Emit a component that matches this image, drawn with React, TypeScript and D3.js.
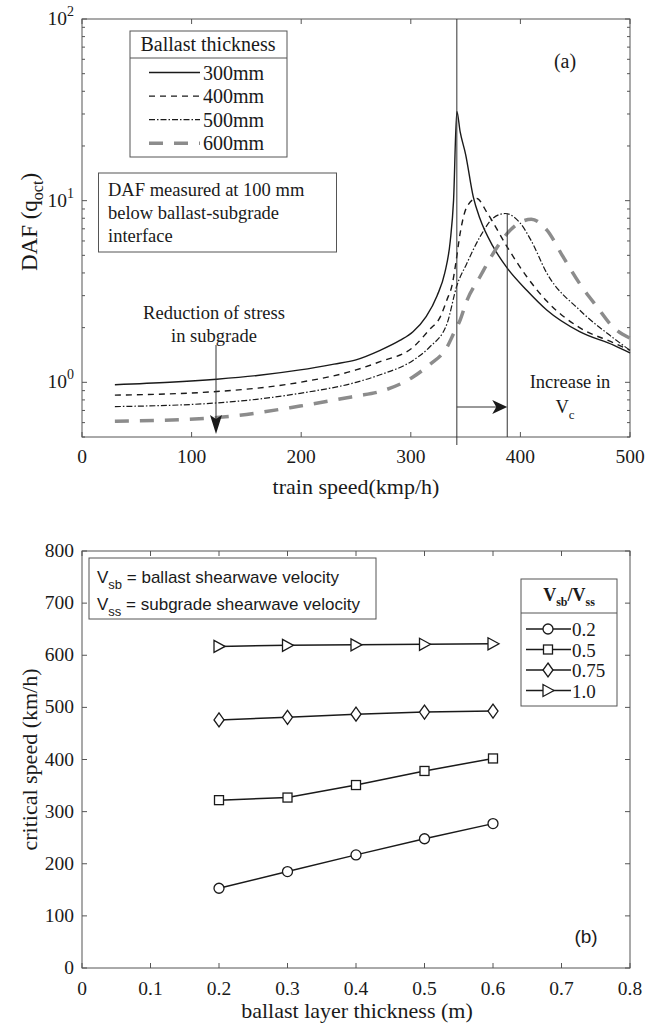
import React from "react";
import * as d3 from "d3";

// ---- panel (a): DAF vs train speed ----
const thicknessLabels = ["300mm", "400mm", "500mm", "600mm"];

const speed300 = [30, 80, 123, 160, 199, 230, 250, 272, 290, 302, 314, 324, 331, 336, 339, 342, 345, 350, 357, 363, 375, 388, 406, 424, 454, 485, 500];
const daf300 = [0.97, 1.0, 1.04, 1.09, 1.17, 1.26, 1.33, 1.5, 1.7, 1.9, 2.3, 3.0, 4.0, 6.0, 10, 31, 24, 18, 10.5, 8, 5.6, 4.25, 3.2, 2.5, 1.9, 1.6, 1.45];

const speed400 = [30, 123, 199, 250, 272, 302, 317, 327, 333, 338, 341, 345, 351, 360, 370, 388, 406, 424, 454, 485, 500];
const daf400 = [0.85, 0.89, 1.0, 1.17, 1.3, 1.56, 1.95, 2.3, 2.85, 3.5, 4.5, 6.6, 9.2, 10.3, 8.5, 5.55, 3.8, 2.8, 2.0, 1.65, 1.5];

const speed500 = [30, 123, 199, 250, 272, 302, 317, 333, 342, 351, 363, 375, 386, 400, 410, 424, 454, 485, 500];
const daf500 = [0.735, 0.77, 0.87, 1.0, 1.1, 1.32, 1.56, 2.1, 3.4, 4.5, 6.3, 8.0, 8.5, 7.5, 6.0, 4.0, 2.5, 1.75, 1.5];

const speed600 = [30, 123, 199, 250, 272, 302, 317, 333, 339, 345, 351, 363, 375, 388, 400, 410, 424, 439, 454, 470, 485, 500];
const daf600 = [0.61, 0.64, 0.74, 0.84, 0.89, 1.07, 1.25, 1.56, 1.85, 2.2, 2.8, 3.8, 5.1, 6.6, 7.6, 7.9, 6.9, 4.9, 3.5, 2.6, 2.0, 1.75];

const speedTicks = [0, 100, 200, 300, 400, 500];
const criticalSpeeds = [342, 388];

// ---- panel (b): critical speed vs ballast thickness ----
const ratioLabels = ["0.2", "0.5", "0.75", "1.0"];
const thickness = [0.2, 0.3, 0.4, 0.5, 0.6];
const crit02 = [153, 185, 217, 248, 277];
const crit05 = [322, 327, 351, 378, 402];
const crit075 = [476, 481, 487, 491, 493];
const crit10 = [617, 619, 620, 621, 622];
const thickTicks = [0, 0.1, 0.2, 0.3, 0.4, 0.5, 0.6, 0.7, 0.8];
const critTicks = [0, 100, 200, 300, 400, 500, 600, 700, 800];

const serif = "'Liberation Serif', 'Times New Roman', serif";
const sans = "'Liberation Sans', Arial, sans-serif";
const axisColor = "#555";
const ink = "#1a1a1a";

const styleA = [
  { stroke: ink, width: 1.4, dash: "none" },
  { stroke: ink, width: 1.4, dash: "6,5" },
  { stroke: ink, width: 1.2, dash: "6,2,1.5,2" },
  { stroke: "#8c8c8c", width: 3.5, dash: "14,11" },
];

function Marker({ kind, x, y }: { kind: number; x: number; y: number }) {
  const p = { fill: "white", stroke: ink, strokeWidth: 1.3 };
  if (kind === 0) return <circle cx={x} cy={y} r={5} {...p} />;
  if (kind === 1) return <rect x={x - 4.5} y={y - 4.5} width={9} height={9} {...p} />;
  if (kind === 2) return <path d={`M${x},${y - 7}L${x + 5},${y}L${x},${y + 7}L${x - 5},${y}Z`} {...p} />;
  return <path d={`M${x + 6},${y}L${x - 5},${y - 6}L${x - 5},${y + 6}Z`} {...p} />;
}

export default function App() {
  // panel a
  const a = { left: 82, right: 630, top: 19, bottom: 437 };
  const xA = d3.scaleLinear().domain([0, 500]).range([a.left, a.right]);
  const yA = d3.scaleLog().domain([0.5, 100]).range([a.bottom, a.top]);
  const lineA = d3
    .line<[number, number]>()
    .x((d) => xA(d[0]))
    .y((d) => yA(d[1]))
    .curve(d3.curveMonotoneX);
  const seriesA = [
    d3.zip(speed300, daf300),
    d3.zip(speed400, daf400),
    d3.zip(speed500, daf500),
    d3.zip(speed600, daf600),
  ] as [number, number][][];
  const logMinor: number[] = [];
  [0.1, 1, 10].forEach((base) => {
    for (let k = 2; k <= 9; k++) {
      const v = base * k;
      if (v >= 0.5 && v < 100) logMinor.push(v);
    }
  });
  const logMajor = [1, 10, 100];

  // panel b
  const b = { left: 82, right: 630, top: 551, bottom: 968 };
  const xB = d3.scaleLinear().domain([0, 0.8]).range([b.left, b.right]);
  const yB = d3.scaleLinear().domain([0, 800]).range([b.bottom, b.top]);
  const lineB = d3
    .line<[number, number]>()
    .x((d) => xB(d[0]))
    .y((d) => yB(d[1]));
  const seriesB = [crit02, crit05, crit075, crit10].map((vals) => d3.zip(thickness, vals)) as [number, number][][];

  const tick = 5;
  const xc1 = xA(criticalSpeeds[0]);
  const xc2 = xA(criticalSpeeds[1]);

  return (
    <svg width={646} height={1024} style={{ position: "absolute", left: 0, top: 0, background: "white" }}>
      {/* ===== panel (a) ===== */}
      <g>
        {speedTicks.map((t) => (
          <g key={"xa" + t}>
            <line x1={xA(t)} x2={xA(t)} y1={a.bottom} y2={a.bottom - tick} stroke={axisColor} />
            <line x1={xA(t)} x2={xA(t)} y1={a.top} y2={a.top + tick} stroke={axisColor} />
            <text x={xA(t)} y={a.bottom + 26} textAnchor="middle" fontFamily={serif} fontSize={19.5} fill={ink}>
              {t}
            </text>
          </g>
        ))}
        {logMinor.map((v) => (
          <g key={"ym" + v}>
            <line x1={a.left} x2={a.left + 3} y1={yA(v)} y2={yA(v)} stroke={axisColor} />
            <line x1={a.right} x2={a.right - 3} y1={yA(v)} y2={yA(v)} stroke={axisColor} />
          </g>
        ))}
        {logMajor.map((v, i) => (
          <g key={"yM" + v}>
            <line x1={a.left} x2={a.left + tick} y1={yA(v)} y2={yA(v)} stroke={axisColor} />
            <line x1={a.right} x2={a.right - tick} y1={yA(v)} y2={yA(v)} stroke={axisColor} />
            <text x={a.left - 8} y={yA(v) + 6} textAnchor="end" fontFamily={serif} fontSize={19.5} fill={ink}>
              10
              <tspan dy={-9} fontSize={14}>
                {i}
              </tspan>
            </text>
          </g>
        ))}
        <rect x={a.left} y={a.top} width={a.right - a.left} height={a.bottom - a.top} fill="none" stroke={axisColor} />

        {seriesA.map((s, i) => (
          <path
            key={"la" + i}
            d={lineA(s) || ""}
            fill="none"
            stroke={styleA[i].stroke}
            strokeWidth={styleA[i].width}
            strokeDasharray={styleA[i].dash}
          />
        ))}

        {/* critical speed markers */}
        <line x1={xc1} x2={xc1} y1={a.top} y2={a.bottom + 8} stroke="#333" strokeWidth={1} />
        <line x1={xc2} x2={xc2} y1={yA(8.5)} y2={a.bottom} stroke="#333" strokeWidth={1} />
        <line x1={xc1} x2={xc2 - 4} y1={407} y2={407} stroke="#333" strokeWidth={1} />
        <path d={`M${xc2},407L${xc2 - 15},400L${xc2 - 11},407L${xc2 - 15},414Z`} fill={ink} />
        <text x={570} y={388} textAnchor="middle" fontFamily={serif} fontSize={18.5} fill={ink}>
          Increase in
        </text>
        <text x={565} y={413} textAnchor="middle" fontFamily={serif} fontSize={18.5} fill={ink}>
          V<tspan dy={6} fontSize={13}>c</tspan>
        </text>

        {/* reduction arrow */}
        <text x={214} y={319} textAnchor="middle" fontFamily={serif} fontSize={18.5} fill={ink}>
          Reduction of stress
        </text>
        <text x={214} y={342} textAnchor="middle" fontFamily={serif} fontSize={18.5} fill={ink}>
          in subgrade
        </text>
        <line x1={216} x2={216} y1={345} y2={425} stroke="#333" strokeWidth={1} />
        <path d="M216,434L210,415L216,419L222,415Z" fill={ink} />

        {/* (a) label */}
        <text x={565} y={68} textAnchor="middle" fontFamily={serif} fontSize={20} fill={ink}>
          (a)
        </text>

        {/* legend */}
        <rect x={130} y={31} width={157} height={126} fill="white" stroke={axisColor} />
        <line x1={130} x2={287} y1={58} y2={58} stroke={axisColor} />
        <text x={208} y={51} textAnchor="middle" fontFamily={serif} fontSize={20} fill={ink}>
          Ballast thickness
        </text>
        {thicknessLabels.map((lab, i) => {
          const yy = 72.5 + i * 23.6;
          return (
            <g key={"lg" + i}>
              <line
                x1={149}
                x2={200}
                y1={yy}
                y2={yy}
                stroke={styleA[i].stroke}
                strokeWidth={styleA[i].width}
                strokeDasharray={styleA[i].dash}
              />
              <text x={203} y={yy + 7} fontFamily={serif} fontSize={20} fill={ink}>
                {lab}
              </text>
            </g>
          );
        })}

        {/* note box */}
        <rect x={98.5} y={173} width={238} height={79} fill="white" stroke={axisColor} />
        <text fontFamily={serif} fontSize={18.5} fill={ink}>
          <tspan x={108} y={196}>DAF measured at 100 mm</tspan>
          <tspan x={108} y={219}>below ballast-subgrade</tspan>
          <tspan x={108} y={242}>interface</tspan>
        </text>

        {/* axis titles */}
        <text x={356} y={494} textAnchor="middle" fontFamily={serif} fontSize={22} fill={ink}>
          train speed(kmp/h)
        </text>
        <text transform={`translate(37,222) rotate(-90)`} textAnchor="middle" fontFamily={serif} fontSize={23} fill={ink}>
          DAF (q<tspan dy={6} fontSize={16}>oct</tspan>
          <tspan dy={-6}>)</tspan>
        </text>
      </g>

      {/* ===== panel (b) ===== */}
      <g>
        {thickTicks.map((t) => (
          <g key={"xb" + t}>
            <line x1={xB(t)} x2={xB(t)} y1={b.bottom} y2={b.bottom - tick} stroke={axisColor} />
            <line x1={xB(t)} x2={xB(t)} y1={b.top} y2={b.top + tick} stroke={axisColor} />
            <text x={xB(t)} y={b.bottom + 27} textAnchor="middle" fontFamily={serif} fontSize={19.5} fill={ink}>
              {t === 0 ? "0" : t.toFixed(1)}
            </text>
          </g>
        ))}
        {critTicks.map((t) => (
          <g key={"yb" + t}>
            <line x1={b.left} x2={b.left + tick} y1={yB(t)} y2={yB(t)} stroke={axisColor} />
            <line x1={b.right} x2={b.right - tick} y1={yB(t)} y2={yB(t)} stroke={axisColor} />
            <text x={b.left - 8} y={yB(t) + 6} textAnchor="end" fontFamily={serif} fontSize={19.5} fill={ink}>
              {t}
            </text>
          </g>
        ))}
        <rect x={b.left} y={b.top} width={b.right - b.left} height={b.bottom - b.top} fill="none" stroke={axisColor} />

        {seriesB.map((s, i) => (
          <g key={"sb" + i}>
            <path d={lineB(s) || ""} fill="none" stroke={ink} strokeWidth={1.5} />
            {s.map((d, j) => (
              <Marker key={j} kind={i} x={xB(d[0])} y={yB(d[1])} />
            ))}
          </g>
        ))}

        {/* info box */}
        <rect x={89} y={558} width={287} height={61} fill="white" stroke={axisColor} />
        <text x={97} y={583} fontFamily={sans} fontSize={17} fill={ink}>
          V<tspan dy={6} fontSize={13}>sb</tspan>
          <tspan dy={-6}> = ballast shearwave velocity</tspan>
        </text>
        <text x={97} y={610} fontFamily={sans} fontSize={17} fill={ink}>
          V<tspan dy={6} fontSize={13}>ss</tspan>
          <tspan dy={-6}> = subgrade shearwave velocity</tspan>
        </text>

        {/* legend */}
        <rect x={521} y={579} width={96} height={127} fill="white" stroke={axisColor} />
        <line x1={521} x2={617} y1={613} y2={613} stroke={axisColor} />
        <text x={569} y={601} textAnchor="middle" fontFamily={serif} fontSize={18} fontWeight="bold" fill={ink}>
          V<tspan dy={5} fontSize={12}>sb</tspan>
          <tspan dy={-5}>/V</tspan>
          <tspan dy={5} fontSize={12}>ss</tspan>
        </text>
        {ratioLabels.map((lab, i) => {
          const yy = 629 + i * 20.5;
          return (
            <g key={"lb" + i}>
              <line x1={526} x2={571} y1={yy} y2={yy} stroke={ink} strokeWidth={1.5} />
              <Marker kind={i} x={548} y={yy} />
              <text x={572} y={yy + 7} fontFamily={serif} fontSize={19} fill={ink}>
                {lab}
              </text>
            </g>
          );
        })}

        <text x={586} y={943} textAnchor="middle" fontFamily={sans} fontSize={19} fill={ink}>
          (b)
        </text>

        <text x={357} y={1018} textAnchor="middle" fontFamily={serif} fontSize={22} fill={ink}>
          ballast layer thickness (m)
        </text>
        <text transform={`translate(37,${(b.top + b.bottom) / 2}) rotate(-90)`} textAnchor="middle" fontFamily={serif} fontSize={22} fill={ink}>
          critical speed (km/h)
        </text>
      </g>
    </svg>
  );
}
